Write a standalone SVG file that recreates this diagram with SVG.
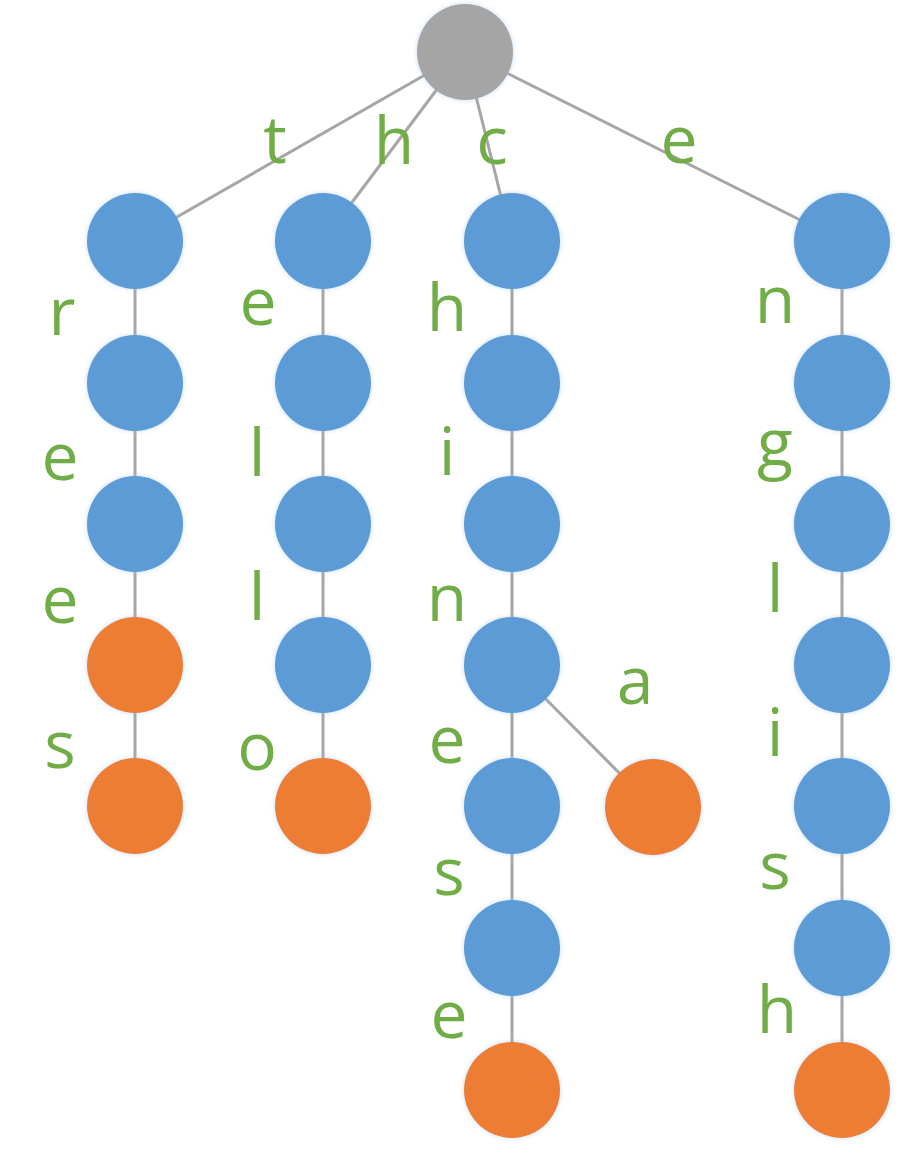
<svg xmlns="http://www.w3.org/2000/svg" width="903" height="1157" viewBox="0 0 903 1157">
<defs>
<style>
.e{stroke:#A6A6A6;stroke-width:3;fill:none}
.b{fill:#5B9BD5}
.o{fill:#ED7D31}
.r{fill:#A5A5A5}
.n{filter:url(#glow)}
.t{fill:#70AD47;font-family:"Open Sans","Noto Sans",sans-serif;font-size:66px;text-anchor:middle}
</style>
<filter id="glow" x="-20%" y="-20%" width="140%" height="140%">
<feGaussianBlur in="SourceAlpha" stdDeviation="2.5" result="bl"/>
<feFlood flood-color="#9DC3E6" flood-opacity="0.6"/>
<feComposite in2="bl" operator="in" result="sh"/>
<feMerge><feMergeNode in="sh"/><feMergeNode in="SourceGraphic"/></feMerge>
</filter>
</defs>
<rect width="903" height="1157" fill="#FFFFFF"/>
<g id="connectors">
<line class="e" x1="465" y1="52" x2="135" y2="241"/>
<line class="e" x1="465" y1="52" x2="323" y2="241"/>
<line class="e" x1="465" y1="52" x2="512" y2="241"/>
<line class="e" x1="465" y1="52" x2="842" y2="241"/>
<line class="e" x1="135" y1="241" x2="135" y2="806"/>
<line class="e" x1="323" y1="241" x2="323" y2="806"/>
<line class="e" x1="512" y1="241" x2="512" y2="1090"/>
<line class="e" x1="842" y1="241" x2="842" y2="1090"/>
<line class="e" x1="512" y1="665" x2="653" y2="807"/>
</g>
<g id="root"><circle class="r n" cx="465" cy="52" r="48"/></g>
<g id="col-t">
<circle id="t1" class="b n" cx="135" cy="241" r="48"/>
<circle id="t2" class="b n" cx="135" cy="383" r="48"/>
<circle id="t3" class="b n" cx="135" cy="524" r="48"/>
<circle id="t4" class="o n" cx="135" cy="665" r="48"/>
<circle id="t5" class="o n" cx="135" cy="806" r="48"/>
</g>
<g id="col-h">
<circle id="h1" class="b n" cx="323" cy="241" r="48"/>
<circle id="h2" class="b n" cx="323" cy="383" r="48"/>
<circle id="h3" class="b n" cx="323" cy="524" r="48"/>
<circle id="h4" class="b n" cx="323" cy="665" r="48"/>
<circle id="h5" class="o n" cx="323" cy="806" r="48"/>
</g>
<g id="col-c">
<circle id="c1" class="b n" cx="512" cy="241" r="48"/>
<circle id="c2" class="b n" cx="512" cy="383" r="48"/>
<circle id="c3" class="b n" cx="512" cy="524" r="48"/>
<circle id="c4" class="b n" cx="512" cy="665" r="48"/>
<circle id="c5" class="b n" cx="512" cy="806" r="48"/>
<circle id="c6" class="b n" cx="512" cy="948" r="48"/>
<circle id="c7" class="o n" cx="512" cy="1090" r="48"/>
<circle id="ca" class="o n" cx="653" cy="807" r="48"/>
</g>
<g id="col-e">
<circle id="e1" class="b n" cx="842" cy="241" r="48"/>
<circle id="e2" class="b n" cx="842" cy="383" r="48"/>
<circle id="e3" class="b n" cx="842" cy="524" r="48"/>
<circle id="e4" class="b n" cx="842" cy="665" r="48"/>
<circle id="e5" class="b n" cx="842" cy="806" r="48"/>
<circle id="e6" class="b n" cx="842" cy="948" r="48"/>
<circle id="e7" class="o n" cx="842" cy="1090" r="48"/>
</g>
<g id="labels">
<text class="t" x="275" y="163">t</text>
<text class="t" x="394" y="164">h</text>
<text class="t" x="492" y="164">c</text>
<text class="t" x="679" y="163">e</text>
<text class="t" x="62" y="335">r</text>
<text class="t" x="60" y="480">e</text>
<text class="t" x="60" y="623">e</text>
<text class="t" x="60" y="768">s</text>
<text class="t" x="258" y="325">e</text>
<text class="t" x="257" y="476">l</text>
<text class="t" x="257" y="620">l</text>
<text class="t" x="257" y="770">o</text>
<text class="t" x="447" y="331">h</text>
<text class="t" x="447" y="475">i</text>
<text class="t" x="447" y="621">n</text>
<text class="t" x="447" y="763">e</text>
<text class="t" x="449" y="895">s</text>
<text class="t" x="449" y="1038">e</text>
<text class="t" x="635" y="704">a</text>
<text class="t" x="775" y="323">n</text>
<text class="t" x="775" y="466">g</text>
<text class="t" x="775" y="612">l</text>
<text class="t" x="775" y="756">i</text>
<text class="t" x="775" y="889">s</text>
<text class="t" x="777" y="1033">h</text>
</g>
</svg>
